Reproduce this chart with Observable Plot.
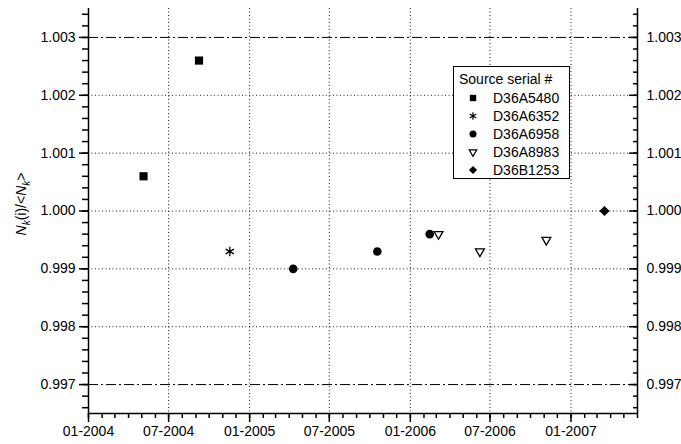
<!DOCTYPE html>
<html><head><meta charset="utf-8">
<script src="https://cdn.jsdelivr.net/npm/d3@7"></script>
<script src="https://cdn.jsdelivr.net/npm/@observablehq/plot@0.6"></script>
<style>
body{margin:0;background:#fff;font-family:"Liberation Sans",Arial,sans-serif;}
#wrap{position:relative;width:681px;height:444px;}
#legend{position:absolute;left:453px;top:66px;width:115px;height:111px;border:1px solid #000;background:#fff;font-size:14px;color:#000;}
#legend .title{position:absolute;left:5px;top:4px;white-space:nowrap;}
#legend .row{position:absolute;left:0;height:18px;width:115px;}
#legend .row svg{position:absolute;left:11px;top:0;}
#legend .row span{position:absolute;left:39px;top:1px;white-space:nowrap;}
</style></head>
<body><div id="wrap"><div id="legend"></div></div>
<script>
// ---- data ----
const series = ["D36A5480", "D36A6352", "D36A6958", "D36A8983", "D36B1253"];
const pointSerial = ["D36A5480","D36A5480","D36A6352","D36A6958","D36A6958","D36A6958","D36A8983","D36A8983","D36A8983","D36B1253"];
const pointDate = ["2004-05-05","2004-09-08","2004-11-17","2005-04-10","2005-10-18","2006-02-14","2006-03-06","2006-06-08","2006-11-06","2007-03-18"];
const pointValue = [1.0006, 1.0026, 0.9993, 0.9990, 0.9993, 0.9996, 0.9996, 0.9993, 0.9995, 1.0000];
const xTickLabels = ["2004-01-01","2004-07-01","2005-01-01","2005-07-01","2006-01-01","2006-07-01","2007-01-01"];
const yTicks = [0.997, 0.998, 0.999, 1.000, 1.001, 1.002, 1.003];
const yGrid = [0.998, 0.999, 1.000, 1.001, 1.002];
const yRef = [0.997, 1.003];
const xDomain = ["2004-01-01", "2007-06-01"];
const yDomain = [0.9965, 1.0035];

// ---- build ----
const data = pointSerial.map((s, i) => ({serial: s, date: new Date(pointDate[i]), value: pointValue[i]}));
const xTicks = xTickLabels.map(d => new Date(d));
const xDom = xDomain.map(d => new Date(d));
const minorX = d3.utcMonth.range(xDom[0], d3.utcDay.offset(xDom[1], 1));
const minorY = d3.range(0, 36).map(i => +(yDomain[0] + 0.0001 + i * 0.0002).toFixed(4)).filter(v => v <= yDomain[1]);

const styleOf = {
  "D36A5480": {symbol: "square", fill: "#000", stroke: "none", rotate: 0, r: 4.6, lr: 3.6},
  "D36A6352": {symbol: "asterisk", fill: "none", stroke: "#000", rotate: 0, r: 4.5, lr: 3.6},
  "D36A6958": {symbol: "circle", fill: "#000", stroke: "none", rotate: 0, r: 4.3, lr: 3.5},
  "D36A8983": {symbol: "triangle", fill: "#fff", stroke: "#000", rotate: 180, r: 3.3, lr: 2.8},
  "D36B1253": {symbol: "diamond2", fill: "#000", stroke: "none", rotate: 0, r: 4.6, lr: 3.7}
};

const dotMarks = series.map(s => Plot.dot(data.filter(d => d.serial === s), {
  x: "date", y: "value", symbol: styleOf[s].symbol, fill: styleOf[s].fill,
  stroke: styleOf[s].stroke, strokeWidth: 1.3, rotate: styleOf[s].rotate,
  r: styleOf[s].r
}));

const chart = Plot.plot({
  width: 681, height: 444,
  marginLeft: 88, marginRight: 44, marginTop: 8, marginBottom: 31,
  style: {fontFamily: "'Liberation Sans', Arial, sans-serif", fontSize: "14px", color: "#000", background: "#fff", overflow: "visible"},
  x: {type: "utc", domain: xDom},
  y: {domain: yDomain},
  marks: [
    Plot.ruleY(yGrid, {stroke: "#000", strokeDasharray: "1,2.5", strokeWidth: 1, strokeOpacity: 0.9}),
    Plot.ruleX(xTicks.slice(1), {stroke: "#000", strokeDasharray: "1,2.5", strokeWidth: 1, strokeOpacity: 0.9}),
    Plot.ruleY(yRef, {stroke: "#000", strokeDasharray: "10,3,2,3", strokeWidth: 1}),
    Plot.axisX({ticks: minorX, tickSize: 5, text: null, label: null, strokeWidth: 1.5}),
    Plot.axisX({ticks: xTicks, tickSize: 9, tickPadding: 4, tickFormat: d3.utcFormat("%m-%Y"), label: null, strokeWidth: 1.5}),
    Plot.axisY({anchor: "left", ticks: minorY, tickSize: 6, text: null, label: null, strokeWidth: 1.5}),
    Plot.axisY({anchor: "left", ticks: yTicks, tickSize: 9, tickPadding: 4, tickFormat: d3.format(".3f"), label: null, strokeWidth: 1.5}),
    Plot.axisY({anchor: "right", ticks: minorY, tickSize: -5, text: null, label: null, strokeWidth: 1.5}),
    Plot.axisY({anchor: "right", ticks: yTicks, tickSize: -9, tickPadding: 18, tickFormat: d3.format(".3f"), label: null, strokeWidth: 1.5}),
    Plot.ruleY([yDomain[0]], {stroke: "#000", strokeWidth: 1.5}),
    Plot.ruleX([xDom[0]], {stroke: "#000", strokeWidth: 1.5}),
    Plot.ruleX([xDom[1]], {stroke: "#000", strokeWidth: 1.5}),
    ...dotMarks
  ]
});
document.getElementById("wrap").prepend(chart);

// y-axis label with subscripts
const svg = d3.select(chart);
const lab = svg.append("text")
  .attr("transform", "translate(26,204) rotate(-90)")
  .attr("text-anchor", "middle")
  .attr("font-size", 14)
  .attr("fill", "#000");
lab.append("tspan").attr("font-style", "italic").text("N");
lab.append("tspan").attr("font-style", "italic").attr("font-size", 10).attr("dy", 4).text("k");
lab.append("tspan").attr("dy", -4).text("(i)/<");
lab.append("tspan").attr("font-style", "italic").text("N");
lab.append("tspan").attr("font-style", "italic").attr("font-size", 10).attr("dy", 4).text("k");
lab.append("tspan").attr("dy", -4).text(">");

// legend
const legend = d3.select("#legend");
legend.append("div").attr("class", "title").text("Source serial #");
series.forEach((s, i) => {
  const row = legend.append("div").attr("class", "row").style("top", (22 + i * 18) + "px");
  const st = styleOf[s];
  const sym = {square: d3.symbolSquare, asterisk: d3.symbolAsterisk, circle: d3.symbolCircle, triangle: d3.symbolTriangle, diamond2: d3.symbolDiamond2}[st.symbol];
  const area = Math.PI * st.lr * st.lr;
  row.append("svg").attr("width", 16).attr("height", 18)
    .append("path")
    .attr("transform", `translate(8,9) rotate(${st.rotate})`)
    .attr("d", d3.symbol(sym, area)())
    .attr("fill", st.fill).attr("stroke", st.stroke).attr("stroke-width", 1.2);
  row.append("span").text(s);
});
</script>
</body></html>
